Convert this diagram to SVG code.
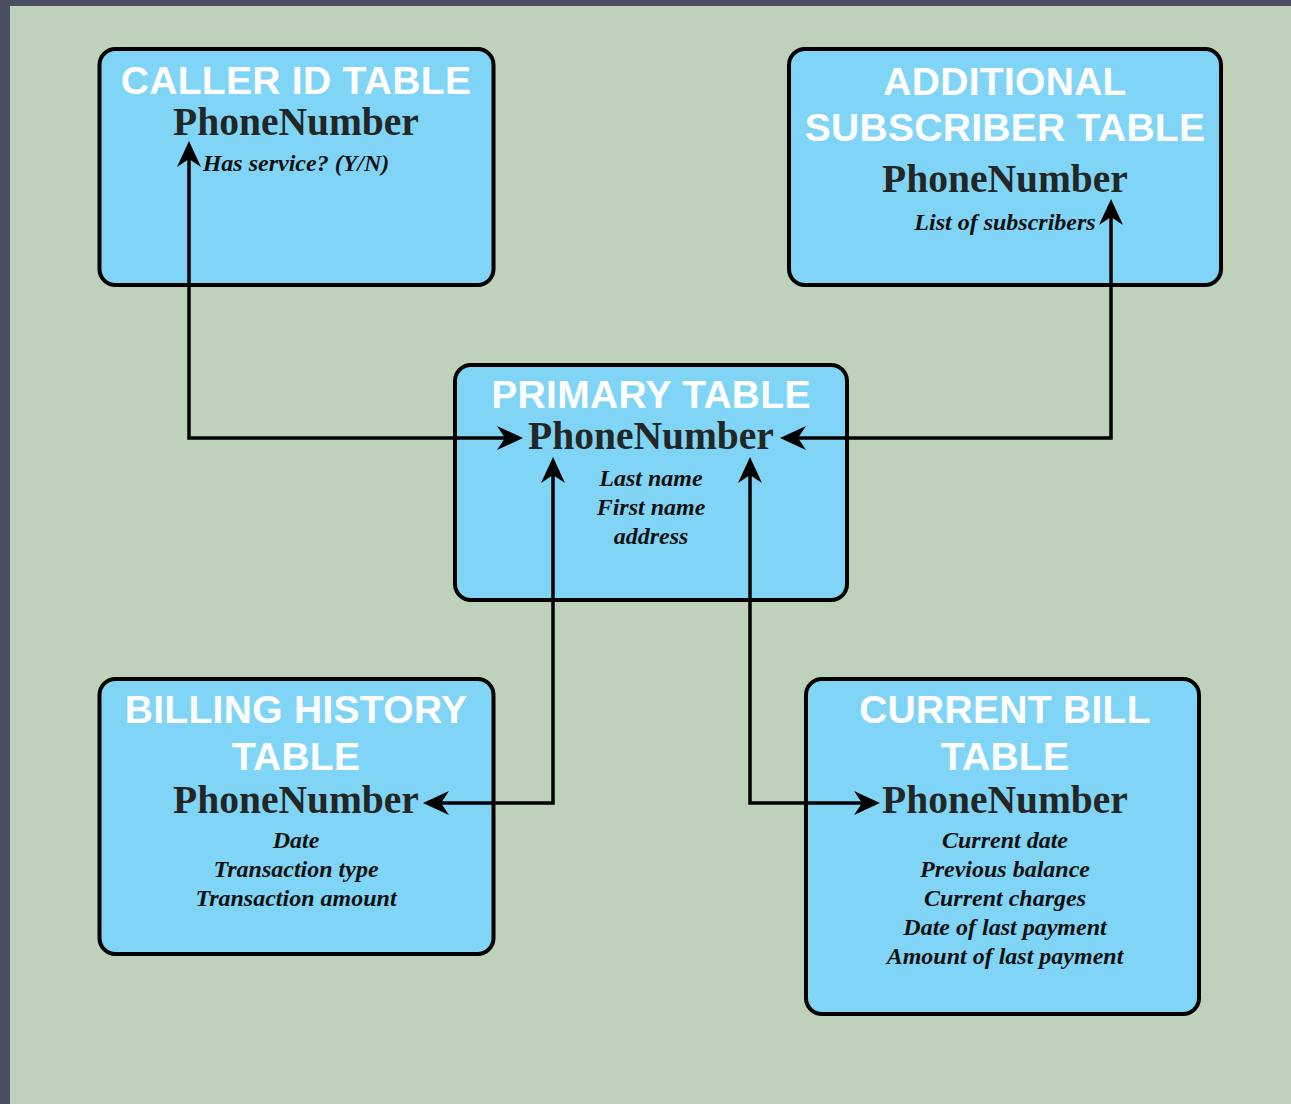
<svg xmlns="http://www.w3.org/2000/svg" width="1291" height="1104" viewBox="0 0 1291 1104">
<style>
.box{fill:#80d5f7;stroke:#000;stroke-width:4}
.title{font-family:"Liberation Sans",Arial,sans-serif;font-weight:bold;font-size:39px;letter-spacing:0.3px;fill:#fff;text-anchor:middle}
.key{font-family:"Liberation Serif","Times New Roman",serif;font-weight:bold;font-size:39.5px;fill:#222624;text-anchor:middle}
.item{font-family:"Liberation Serif","Times New Roman",serif;font-weight:bold;font-style:italic;font-size:24px;fill:#111;text-anchor:middle}
.conn{fill:none;stroke:#000;stroke-width:3.5;marker-start:url(#arr);marker-end:url(#arr)}
</style>
<defs>
<marker id="arr" viewBox="0 0 26 24" refX="8" refY="12" markerWidth="26" markerHeight="24" markerUnits="userSpaceOnUse" orient="auto-start-reverse">
<path d="M0,0 L26,12 L0,24 L8,12 Z" fill="#000"/>
</marker>
</defs>
<rect x="0" y="0" width="1291" height="1104" fill="#4a4e63"/>
<rect x="10" y="6" width="1281" height="1098" fill="#bdd1bb"/>

<g id="caller-id">
<rect class="box" x="99.5" y="49" width="394" height="236" rx="16"/>
<text class="title" x="296" y="94">CALLER ID TABLE</text>
<text class="key" x="296" y="135">PhoneNumber</text>
<text class="item" x="296" y="171">Has service? (Y/N)</text>
</g>

<g id="additional-subscriber">
<rect class="box" x="789" y="49" width="432" height="236" rx="16"/>
<text class="title" x="1005" y="95">ADDITIONAL</text>
<text class="title" x="1005" y="141">SUBSCRIBER TABLE</text>
<text class="key" x="1005" y="192">PhoneNumber</text>
<text class="item" x="1005" y="230">List of subscribers</text>
</g>

<g id="primary">
<rect class="box" x="455" y="365" width="392" height="235" rx="16"/>
<text class="title" x="651" y="408">PRIMARY TABLE</text>
<text class="key" x="651" y="449">PhoneNumber</text>
<text class="item" x="651" y="486">Last name</text>
<text class="item" x="651" y="515">First name</text>
<text class="item" x="651" y="544">address</text>
</g>

<g id="billing-history">
<rect class="box" x="99.5" y="679" width="394" height="275" rx="16"/>
<text class="title" x="296" y="723">BILLING HISTORY</text>
<text class="title" x="296" y="770">TABLE</text>
<text class="key" x="296" y="813">PhoneNumber</text>
<text class="item" x="296" y="848">Date</text>
<text class="item" x="296" y="877">Transaction type</text>
<text class="item" x="296" y="906">Transaction amount</text>
</g>

<g id="current-bill">
<rect class="box" x="806" y="679" width="393" height="335" rx="16"/>
<text class="title" x="1005" y="723">CURRENT BILL</text>
<text class="title" x="1005" y="770">TABLE</text>
<text class="key" x="1005" y="813">PhoneNumber</text>
<text class="item" x="1005" y="848">Current date</text>
<text class="item" x="1005" y="877">Previous balance</text>
<text class="item" x="1005" y="906">Current charges</text>
<text class="item" x="1005" y="935">Date of last payment</text>
<text class="item" x="1005" y="964">Amount of last payment</text>
</g>

<g id="connectors">
<path class="conn" d="M189,159 L189,438 L505,438"/>
<path class="conn" d="M1111,217 L1111,438 L798,438"/>
<path class="conn" d="M553,475 L553,803 L441,803"/>
<path class="conn" d="M750,475 L750,803 L862,803"/>
</g>
</svg>
